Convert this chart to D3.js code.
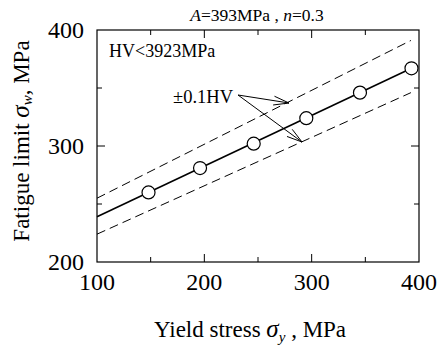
<!DOCTYPE html>
<html lang="en">
<head>
  <meta charset="UTF-8" />
  <title>Fatigue limit vs yield stress</title>
  <style>
    body { margin: 0; background: #fff; }
    svg { display: block; }
  </style>
  <script src="https://cdn.jsdelivr.net/npm/d3@7"></script>
</head>
<body>
  <div id="chart"></div>
  <script>
    // data
    const yieldStress = [148, 196, 246, 295, 345, 393];
    const fatigueLimit = [260, 281, 302, 324, 346, 367];
    const fitLine = [[100, 239], [393, 367]];
    const upperBand = [[100, 255], [392.5, 391]];
    const lowerBand = [[100, 224], [392.5, 346]];
    const xTicks = [100, 200, 300, 400];
    const yTicks = [200, 300, 400];

    const W = 444, H = 347;
    const margin = { top: 30, right: 25, bottom: 85, left: 97 };

    const svg = d3.select('#chart').append('svg')
      .attr('width', W).attr('height', H)
      .attr('font-family', "'Liberation Serif', 'Times New Roman', Times, 'DejaVu Serif', serif");

    const x = d3.scaleLinear().domain([100, 400]).range([margin.left, W - margin.right]);
    const y = d3.scaleLinear().domain([200, 400]).range([H - margin.bottom, margin.top]);

    // frame
    svg.append('rect')
      .attr('x', x(100)).attr('y', y(400))
      .attr('width', x(400) - x(100)).attr('height', y(200) - y(400))
      .attr('fill', 'none').attr('stroke', '#000').attr('stroke-width', 1.2);

    // inward ticks on all four sides
    const minor = d3.range(100, 401, 50);
    const minorY = d3.range(200, 401, 50);
    const tl = v => (v % 100 === 0 ? 8 : 5);
    const tickG = svg.append('g').attr('stroke', '#000').attr('stroke-width', 1);
    minor.slice(1, -1).forEach(v => {
      tickG.append('line').attr('x1', x(v)).attr('x2', x(v)).attr('y1', y(200)).attr('y2', y(200) - tl(v));
      tickG.append('line').attr('x1', x(v)).attr('x2', x(v)).attr('y1', y(400)).attr('y2', y(400) + tl(v));
    });
    minorY.slice(1, -1).forEach(v => {
      tickG.append('line').attr('y1', y(v)).attr('y2', y(v)).attr('x1', x(100)).attr('x2', x(100) + tl(v));
      tickG.append('line').attr('y1', y(v)).attr('y2', y(v)).attr('x1', x(400)).attr('x2', x(400) - tl(v));
    });

    // tick labels
    svg.append('g').selectAll('text').data(xTicks).join('text')
      .attr('x', d => x(d)).attr('y', 290)
      .attr('text-anchor', 'middle').attr('font-size', 24)
      .text(d => d);
    svg.append('g').selectAll('text').data(yTicks).join('text')
      .attr('x', 84).attr('y', d => y(d) + 8)
      .attr('text-anchor', 'end').attr('font-size', 24)
      .text(d => d);

    const line = d3.line().x(d => x(d[0])).y(d => y(d[1]));

    // scatter band
    [upperBand, lowerBand].forEach(b => {
      svg.append('path').attr('d', line(b))
        .attr('fill', 'none').attr('stroke', '#000').attr('stroke-width', 1)
        .attr('stroke-dasharray', '9,5');
    });

    svg.append('path').attr('d', line(fitLine))
      .attr('fill', 'none').attr('stroke', '#000').attr('stroke-width', 1.6);

    svg.append('g').selectAll('circle').data(yieldStress).join('circle')
      .attr('cx', d => x(d)).attr('cy', (d, i) => y(fatigueLimit[i]))
      .attr('r', 6.5).attr('fill', '#fff').attr('stroke', '#000').attr('stroke-width', 1.2);

    // annotation arrows
    const start = [238, 95];
    const ends = [[289, 103], [302, 142]];
    ends.forEach(e => {
      svg.append('line').attr('x1', start[0]).attr('y1', start[1]).attr('x2', e[0]).attr('y2', e[1])
        .attr('stroke', '#000').attr('stroke-width', 1);
      const ang = Math.atan2(e[1] - start[1], e[0] - start[0]);
      const len = 16, spread = 0.28;
      [-spread, spread].forEach(s => {
        svg.append('line')
          .attr('x1', e[0]).attr('y1', e[1])
          .attr('x2', e[0] - len * Math.cos(ang + s)).attr('y2', e[1] - len * Math.sin(ang + s))
          .attr('stroke', '#000').attr('stroke-width', 1);
      });
    });

    svg.append('text').attr('x', 173).attr('y', 103).attr('font-size', 18.5).text('±0.1HV');
    svg.append('text').attr('x', 109).attr('y', 57).attr('font-size', 18).text('HV<3923MPa');

    // title
    const title = svg.append('text').attr('x', 257).attr('y', 21)
      .attr('text-anchor', 'middle').attr('font-size', 17.5);
    title.append('tspan').attr('font-style', 'italic').text('A');
    title.append('tspan').text('=393MPa , ');
    title.append('tspan').attr('font-style', 'italic').text('n');
    title.append('tspan').text('=0.3');

    // axis titles
    const xl = svg.append('text').attr('x', 250).attr('y', 337)
      .attr('text-anchor', 'middle').attr('font-size', 23);
    xl.append('tspan').text('Yield stress ');
    xl.append('tspan').attr('font-style', 'italic').attr('font-size', 25).text('σ');
    xl.append('tspan').attr('font-style', 'italic').attr('font-size', 15).attr('dy', 5).text('y');
    xl.append('tspan').attr('dy', -5).text(' , MPa');

    const yl = svg.append('text')
      .attr('transform', 'translate(29,141) rotate(-90)')
      .attr('text-anchor', 'middle').attr('font-size', 23);
    yl.append('tspan').text('Fatigue limit ');
    yl.append('tspan').attr('font-style', 'italic').attr('font-size', 25).text('σ');
    yl.append('tspan').attr('font-style', 'italic').attr('font-size', 15).attr('dy', 3).text('w');
    yl.append('tspan').attr('dy', -3).text(', MPa');
  </script>
</body>
</html>
